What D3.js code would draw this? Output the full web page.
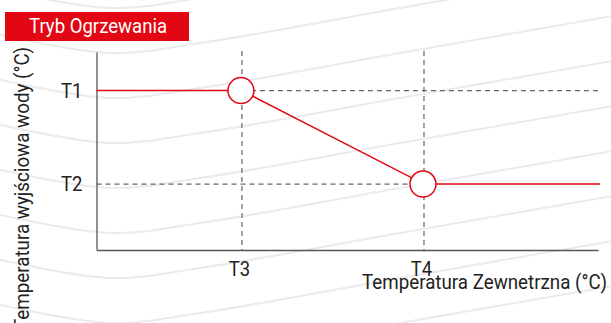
<!DOCTYPE html>
<html>
<head>
<meta charset="utf-8">
<script src="https://cdn.jsdelivr.net/npm/d3@7"></script>
<style>
  html, body { margin: 0; padding: 0; background: #fff; }
  svg { display: block; }
  text { font-family: Roboto, "Noto Sans", sans-serif; }
</style>
</head>
<body>
<svg id="chart" width="611" height="323"></svg>
<script>
// Heating curve: outlet water temperature vs outdoor temperature
const title = "Tryb Ogrzewania";
const xAxisTitle = "Temperatura Zewnetrzna (°C)";
const yAxisTitle = "Temperatura wyjściowa wody (°C)";

// Outdoor temperature set points (relative axis units, 0..100)
const xTickLabels = ["T3", "T4"];
const xTickValues = [29, 65.3];

// Outlet water temperature set points (relative axis units, 0..100)
const yTickLabels = ["T1", "T2"];
const yTickValues = [80.5, 33.3];

// Curve: flat at T1 up to T3, falling to T2 at T4, flat beyond
const curveX = [0, 29, 65.3, 100.4];
const curveY = [80.5, 80.5, 33.3, 33.3];
const markerIdx = [1, 2];

const svg = d3.select("#chart");

const red = "#e30613";
const ink = "#222";

// Narrow a text's glyphs to emulate a condensed face
function condense(sel, k) {
  sel.each(function () {
    const w = this.getComputedTextLength();
    d3.select(this).attr("textLength", w * k).attr("lengthAdjust", "spacingAndGlyphs");
  });
}
function fitTo(sel, len) {
  sel.attr("textLength", len).attr("lengthAdjust", "spacingAndGlyphs");
}

// Decorative background waves
const waveShape = [[-20, -22], [0, -18], [110, 0], [200, -10], [400, -45], [630, -85]];
const waveTroughs = d3.range(-37, 430, 45);
const waveLine = d3.line().curve(d3.curveCatmullRom.alpha(0.5));
svg.append("g")
  .selectAll("path")
  .data(waveTroughs)
  .join("path")
  .attr("d", t => waveLine(waveShape.map(([dx, dy]) => [dx, t + dy])))
  .attr("fill", "none")
  .attr("stroke", "#ebebeb")
  .attr("stroke-width", 2);

// Scales
const x = d3.scaleLinear().domain([0, 100]).range([96.5, 598]);
const y = d3.scaleLinear().domain([0, 100]).range([250, 52]);

// Title badge
svg.append("rect")
  .attr("x", 5).attr("y", 12).attr("width", 184).attr("height", 29)
  .attr("fill", red);
svg.append("text")
  .attr("x", 98).attr("y", 32.5)
  .attr("text-anchor", "middle")
  .attr("fill", "#fff")
  .attr("font-size", 21)
  .text(title)
  .call(fitTo, 138);

// Guide lines
const guides = svg.append("g")
  .attr("stroke", "#666")
  .attr("stroke-width", 1.2)
  .attr("stroke-dasharray", "5,4")
  .attr("fill", "none");
xTickValues.forEach(v => {
  guides.append("line")
    .attr("x1", x(v)).attr("x2", x(v))
    .attr("y1", y(100) - 1).attr("y2", y(0));
});
guides.append("line")
  .attr("x1", x(xTickValues[0])).attr("x2", x(100.8))
  .attr("y1", y(yTickValues[0])).attr("y2", y(yTickValues[0]));
guides.append("line")
  .attr("x1", x(0)).attr("x2", x(xTickValues[1]))
  .attr("y1", y(yTickValues[1])).attr("y2", y(yTickValues[1]));

// Axes
const xAxis = d3.axisBottom(x)
  .tickValues(xTickValues)
  .tickFormat((d, i) => xTickLabels[i])
  .tickSize(0).tickSizeOuter(0).tickPadding(11);
const yAxis = d3.axisLeft(y)
  .tickValues(yTickValues)
  .tickFormat((d, i) => yTickLabels[i])
  .tickSize(0).tickSizeOuter(0).tickPadding(14);

const gx = svg.append("g").attr("transform", `translate(0,${y(0)})`).call(xAxis);
const gy = svg.append("g").attr("transform", `translate(${x(0)},0)`).call(yAxis);
[gx, gy].forEach(g => {
  g.select(".domain").attr("stroke", "#555").attr("stroke-width", 1.3);
  g.selectAll("text").attr("font-size", 21).attr("fill", ink)
    .attr("font-family", "Roboto, sans-serif")
    .call(condense, 0.88);
});
gx.selectAll(".tick text").attr("dx", -3);

// Curve
const pts = curveX.map((v, i) => [x(v), y(curveY[i])]);
svg.append("path")
  .attr("d", d3.line()(pts))
  .attr("fill", "none")
  .attr("stroke", red)
  .attr("stroke-width", 1.5);

svg.append("g")
  .selectAll("circle")
  .data(markerIdx)
  .join("circle")
  .attr("cx", i => x(curveX[i]) - 1)
  .attr("cy", i => y(curveY[i]))
  .attr("r", 13)
  .attr("fill", "#fff")
  .attr("stroke", red)
  .attr("stroke-width", 1.5);

// Axis titles
svg.append("text")
  .attr("x", 607).attr("y", 289)
  .attr("text-anchor", "end")
  .attr("font-size", 21)
  .attr("fill", ink)
  .text(xAxisTitle)
  .call(fitTo, 245);

svg.append("text")
  .attr("transform", "translate(29,47) rotate(-90)")
  .attr("text-anchor", "end")
  .attr("font-size", 20.5)
  .attr("fill", ink)
  .text(yAxisTitle)
  .call(fitTo, 283);
</script>
</body>
</html>
